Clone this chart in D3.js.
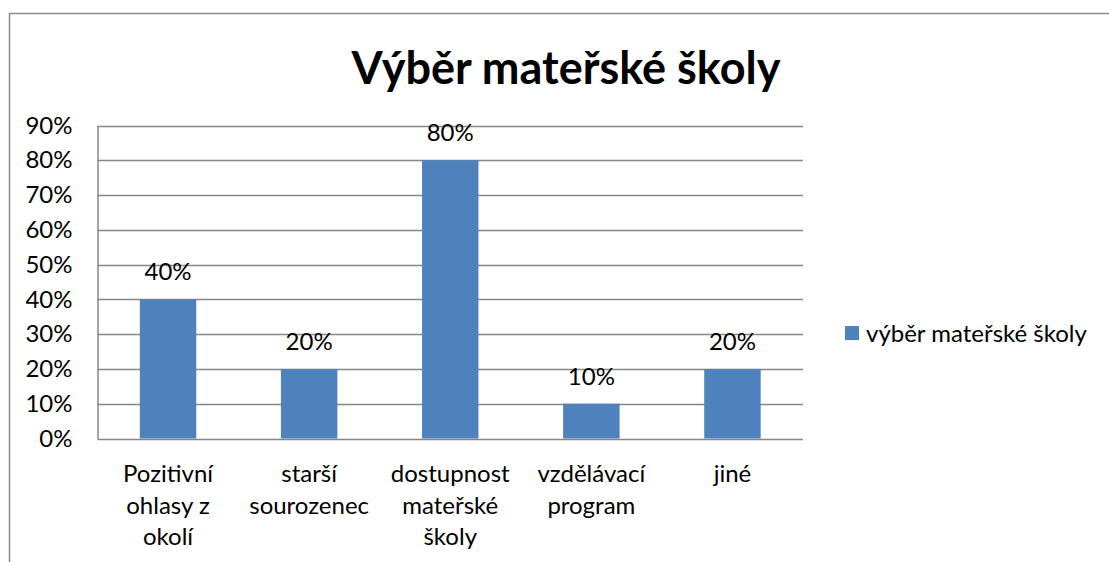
<!DOCTYPE html>
<html>
<head>
<meta charset="utf-8">
<script src="https://cdn.jsdelivr.net/npm/d3@7"></script>
<style>
  body{margin:0;background:#fff;}
  text{font-family:Lato, "Open Sans", sans-serif;}
</style>
</head>
<body>
<svg id="main"></svg>
<script>
//--------data----------
const categories = [
  ['Pozitivní', 'ohlasy z', 'okolí'],
  ['starší', 'sourozenec'],
  ['dostupnost', 'mateřské', 'školy'],
  ['vzdělávací', 'program'],
  ['jiné']
];
const values = [0.4, 0.2, 0.8, 0.1, 0.2];
const yTicks = [0, 0.1, 0.2, 0.3, 0.4, 0.5, 0.6, 0.7, 0.8, 0.9];
const seriesName = 'výběr mateřské školy';
const chartTitle = 'Výběr mateřské školy';

//--------code----------
const width = 1109, height = 562;
const fs = '24px';
const svg = d3.select('#main')
  .attr('width', width)
  .attr('height', height);

// outer frame (right/bottom cut off like the original)
svg.append('path')
  .attr('d', `M9.5,${height}V13.5H${width}`)
  .attr('fill', 'none')
  .attr('stroke', '#8c8c8c')
  .attr('stroke-width', 1.5);

svg.append('text')
  .attr('x', 566)
  .attr('y', 84)
  .attr('text-anchor', 'middle')
  .style('font-size', '45px')
  .style('font-weight', 700)
  .text(chartTitle);

const plot = {left: 97.5, right: 803, top: 125.5, bottom: 438.5};

const sx = d3.scaleBand()
  .domain(d3.range(values.length))
  .range([plot.left, plot.right])
  .paddingInner(0.6)
  .paddingOuter(0.3);
const sy = d3.scaleLinear()
  .domain([0, 0.9])
  .range([plot.bottom, plot.top]);

// gridlines
svg.append('g')
  .selectAll('line')
  .data(yTicks)
  .join('line')
  .attr('x1', plot.left)
  .attr('x2', plot.right)
  .attr('y1', d => Math.round(sy(d)) + 0.5)
  .attr('y2', d => Math.round(sy(d)) + 0.5)
  .attr('stroke', '#868686')
  .attr('stroke-width', 1.5);

// y axis
const ay = d3.axisLeft(sy)
  .tickValues(yTicks)
  .tickFormat(d3.format('.0%'))
  .tickSize(0)
  .tickPadding(25);
const gy = svg.append('g')
  .attr('transform', `translate(${plot.left},0)`)
  .call(ay);
gy.select('.domain').attr('stroke', '#868686').attr('stroke-width', 1.5);
gy.selectAll('text')
  .style('font-size', fs)
  .style('font-family', 'Lato, "Open Sans", sans-serif')
  .attr('fill', '#000');

// bars
svg.append('g')
  .selectAll('rect')
  .data(values)
  .join('rect')
  .attr('x', (d, i) => sx(i))
  .attr('width', sx.bandwidth())
  .attr('y', d => sy(d))
  .attr('height', d => sy(0) - sy(d))
  .attr('fill', '#4f81bd');

// value labels
svg.append('g')
  .selectAll('text')
  .data(values)
  .join('text')
  .attr('x', (d, i) => sx(i) + sx.bandwidth() / 2)
  .attr('y', d => sy(d) - 19)
  .attr('text-anchor', 'middle')
  .style('font-size', fs)
  .text(d => d3.format('.0%')(d));

// category labels
const catG = svg.append('g')
  .selectAll('text')
  .data(categories)
  .join('text')
  .attr('x', (d, i) => sx(i) + sx.bandwidth() / 2)
  .attr('y', 482)
  .attr('text-anchor', 'middle')
  .style('font-size', fs);
catG.selectAll('tspan')
  .data(d => d)
  .join('tspan')
  .attr('x', function(){ return this.parentNode.getAttribute('x'); })
  .attr('dy', (d, i) => i === 0 ? 0 : 31.5)
  .text(d => d);

// legend
const leg = svg.append('g').attr('transform', 'translate(845,326)');
leg.append('rect')
  .attr('width', 14)
  .attr('height', 14)
  .attr('fill', '#4f81bd');
leg.append('text')
  .attr('x', 21)
  .attr('y', 16)
  .style('font-size', fs)
  .text(seriesName);
</script>
</body>
</html>
